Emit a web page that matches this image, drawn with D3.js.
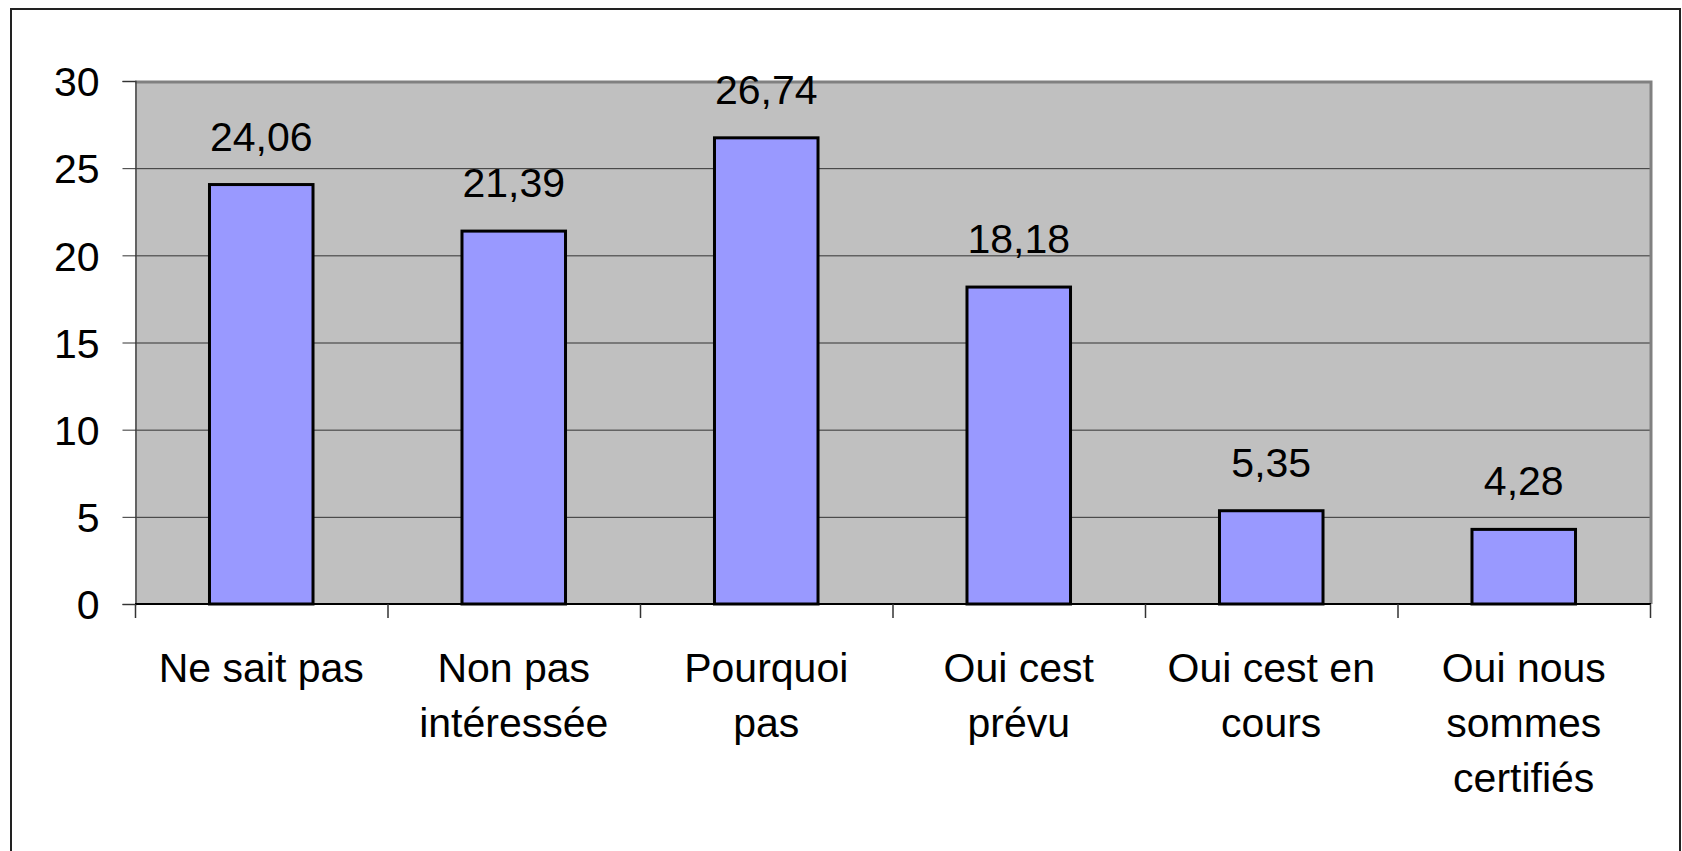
<!DOCTYPE html>
<html>
<head>
<meta charset="utf-8">
<script src="https://cdn.jsdelivr.net/npm/d3@7/dist/d3.min.js"></script>
<style>
  body { margin: 0; background: #fff; }
  text { font-family: "Liberation Sans", Arial, sans-serif; fill: #000; }
</style>
</head>
<body>
<script>
const categories = [
  ["Ne sait pas"],
  ["Non pas", "intéressée"],
  ["Pourquoi", "pas"],
  ["Oui cest", "prévu"],
  ["Oui cest en", "cours"],
  ["Oui nous", "sommes", "certifiés"]
];
const values = [24.06, 21.39, 26.74, 18.18, 5.35, 4.28];
const yTicks = [0, 5, 10, 15, 20, 25, 30];

const W = 1682, H = 851;
const plot = { left: 135, right: 1650, top: 81, bottom: 604 };

const svg = d3.select("body").append("svg")
  .attr("width", W).attr("height", H);

// outer chart border
svg.append("rect")
  .attr("x", 11).attr("y", 9)
  .attr("width", 1669).attr("height", 860)
  .attr("fill", "#fff").attr("stroke", "#222").attr("stroke-width", 2);

const x = d3.scaleBand()
  .domain(d3.range(categories.length))
  .range([plot.left, plot.right])
  .paddingInner(0.59).paddingOuter(0.295);

const xb = d3.scaleBand()
  .domain(d3.range(categories.length))
  .range([plot.left, plot.right]);

const y = d3.scaleLinear().domain([0, 30]).range([plot.bottom, plot.top]);

// plot area
svg.append("rect")
  .attr("x", plot.left).attr("y", plot.top)
  .attr("width", plot.right - plot.left).attr("height", plot.bottom - plot.top)
  .attr("fill", "#c0c0c0");

// gridlines
svg.append("g")
  .selectAll("line")
  .data(yTicks.filter(d => d > 0 && d < 30))
  .join("line")
  .attr("x1", plot.left).attr("x2", plot.right)
  .attr("y1", d => y(d) + 0.5).attr("y2", d => y(d) + 0.5)
  .attr("stroke", "#333").attr("stroke-width", 1);

// plot border (top/right grey)
svg.append("path")
  .attr("d", `M${plot.left},${plot.top + 1} H${plot.right + 1} V${plot.bottom}`)
  .attr("fill", "none").attr("stroke", "#808080").attr("stroke-width", 3);

// y axis
const yAxis = d3.axisLeft(y).tickValues(yTicks).tickSize(13).tickPadding(23);
const gy = svg.append("g")
  .attr("transform", `translate(${plot.left + 0.5},0)`)
  .call(yAxis);
gy.select(".domain").attr("stroke", "#444").attr("stroke-width", 1.5);
gy.selectAll(".tick line").attr("stroke", "#333");
gy.selectAll(".tick text")
  .attr("font-size", 41).attr("dy", "0.36em")
  .style("font-family", "Liberation Sans, Arial, sans-serif").attr("fill", "#000");

// bars
svg.append("g")
  .selectAll("rect")
  .data(values)
  .join("rect")
  .attr("x", (d, i) => x(i))
  .attr("y", d => y(d))
  .attr("width", x.bandwidth())
  .attr("height", d => y(0) - y(d))
  .attr("fill", "#9999ff")
  .attr("stroke", "#000").attr("stroke-width", 3);

// x axis line and ticks
svg.append("line")
  .attr("x1", plot.left).attr("x2", plot.right + 1)
  .attr("y1", plot.bottom).attr("y2", plot.bottom)
  .attr("stroke", "#000").attr("stroke-width", 2);

const bounds = d3.range(categories.length + 1).map(i =>
  i < categories.length ? xb(i) : xb.range()[1]);
svg.append("g")
  .selectAll("line")
  .data(bounds)
  .join("line")
  .attr("x1", d => d + 0.5).attr("x2", d => d + 0.5)
  .attr("y1", plot.bottom).attr("y2", plot.bottom + 14)
  .attr("stroke", "#333").attr("stroke-width", 1.5);

// value labels
svg.append("g")
  .selectAll("text")
  .data(values)
  .join("text")
  .attr("x", (d, i) => x(i) + x.bandwidth() / 2)
  .attr("y", d => y(d) - 34)
  .attr("text-anchor", "middle")
  .attr("font-size", 41)
  .text(d => d.toFixed(2).replace(".", ","));

// category labels
const cat = svg.append("g")
  .selectAll("text")
  .data(categories)
  .join("text")
  .attr("x", (d, i) => xb(i) + xb.bandwidth() / 2)
  .attr("y", 682)
  .attr("text-anchor", "middle")
  .attr("font-size", 41);
cat.selectAll("tspan")
  .data(d => d)
  .join("tspan")
  .attr("x", function () { return d3.select(this.parentNode).attr("x"); })
  .attr("dy", (d, i) => i === 0 ? 0 : 55)
  .text(d => d);
</script>
</body>
</html>
